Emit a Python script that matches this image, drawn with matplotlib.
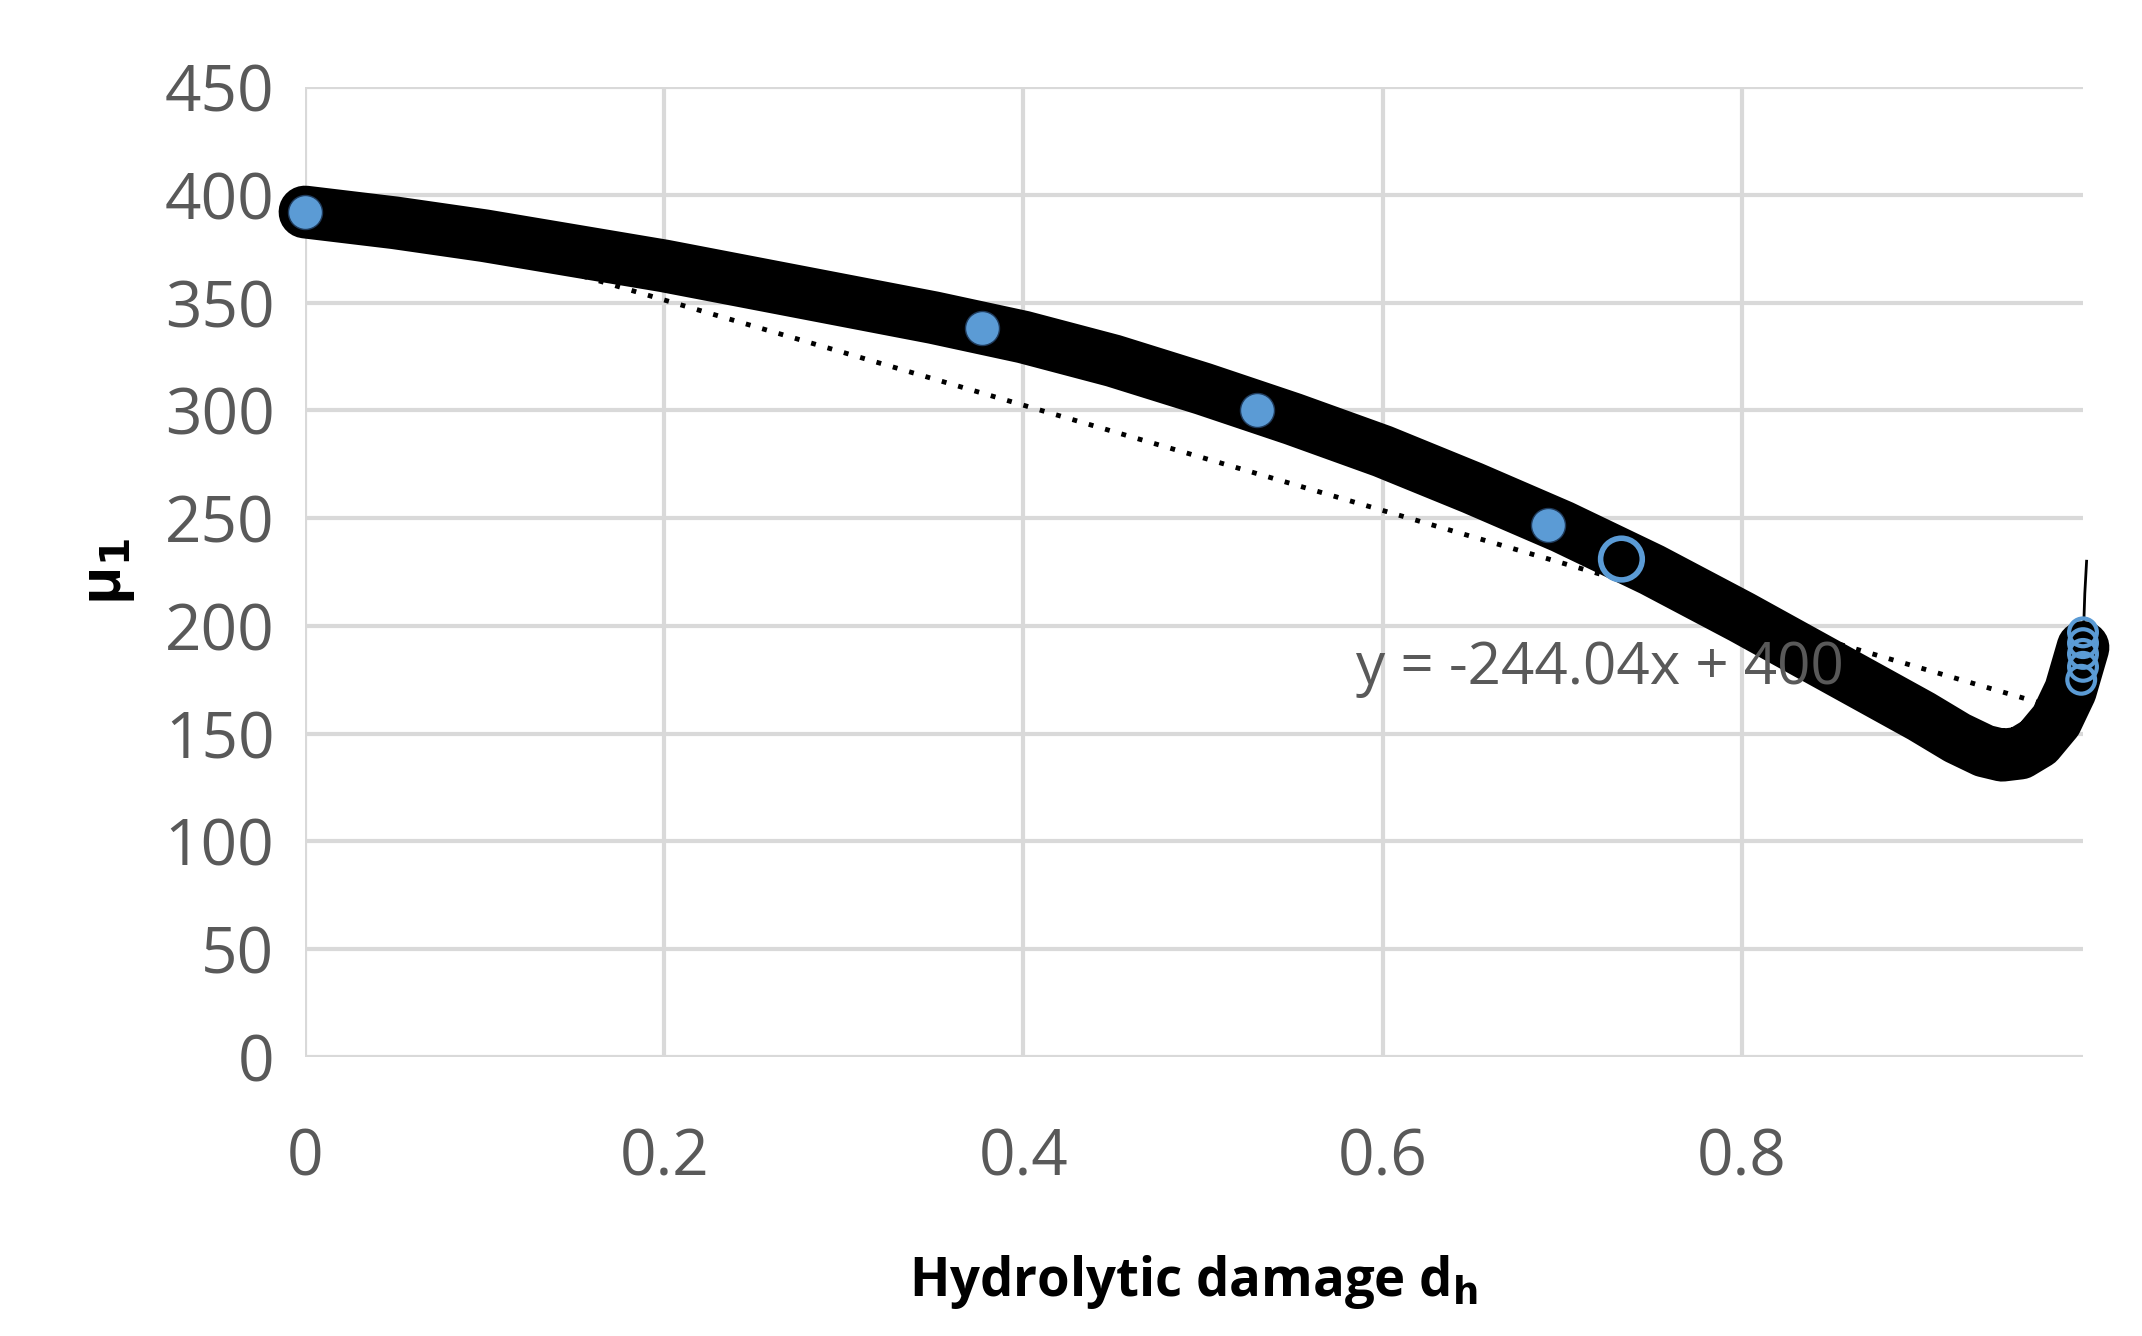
import matplotlib
matplotlib.use('Agg')
import matplotlib.pyplot as plt
import numpy as np

plt.rcParams['font.family'] = ['Open Sans', 'DejaVu Sans']

# thick simulated curve
curve_x = [0.0, 0.05, 0.1, 0.15, 0.2, 0.25, 0.3, 0.35, 0.4, 0.45, 0.5, 0.55, 0.6, 0.65, 0.7,
           0.75, 0.8, 0.85, 0.9, 0.92, 0.935, 0.945, 0.955, 0.965, 0.975, 0.983, 0.99]
curve_y = [392, 387, 381, 374, 367, 359, 351, 343, 334, 323, 310, 296, 281, 264, 246,
           226, 204, 181, 158, 148, 142, 140, 141, 146, 156, 170, 190]
spike_x = [0.99, 0.991, 0.992]
spike_y = [190, 215, 230]

# experimental points
pts_x = [0.0, 0.377, 0.53, 0.692]
pts_y = [392, 338, 300, 247]
open_x = [0.733]
open_y = [231]
end_x = [0.99, 0.99, 0.99, 0.99, 0.989]
end_y = [197, 192, 187, 181, 175]

slope, intercept = -244.04, 400

fig = plt.figure(figsize=(21.42, 13.36), dpi=100)
ax = fig.add_axes([305 / 2142, 1 - 1057 / 1336, (2083 - 305) / 2142, (1057 - 87) / 1336])

tx = np.array([0.0, 0.99])
ax.plot(tx, slope * tx + intercept, color='black', linestyle=(0, (1, 2.5)), linewidth=3.5, zorder=2)
ax.plot(curve_x, curve_y, color='black', linewidth=38, solid_capstyle='round',
        solid_joinstyle='round', zorder=3, clip_on=False)
ax.plot(spike_x, spike_y, color='black', linewidth=2, zorder=3, clip_on=False)
ax.scatter(pts_x, pts_y, s=600, color='#5b9bd5', edgecolors='#1f3b5c', linewidths=1, zorder=4, clip_on=False)
ax.scatter(open_x, open_y, s=900, facecolors='none', edgecolors='#5b9bd5', linewidths=4, zorder=4)
ax.scatter(end_x, end_y, s=400, facecolors='none', edgecolors='#5b9bd5', linewidths=3, zorder=4, clip_on=False)

ax.text(0.585, 180, 'y = -244.04x + 400', fontsize=42, color='#595959', ha='left', va='center', zorder=5)

ax.set_xlim(0, 0.99)
ax.set_ylim(0, 450)
ax.set_xticks([0, 0.2, 0.4, 0.6, 0.8])
ax.set_xticklabels(['0', '0.2', '0.4', '0.6', '0.8'])
ax.set_yticks(range(0, 451, 50))
ax.grid(True, color='#d9d9d9', linewidth=3)
ax.set_axisbelow(True)
for s in ax.spines.values():
    s.set_visible(False)
ax.tick_params(length=0, labelsize=46, labelcolor='#595959', pad=22)
ax.tick_params(axis='x', pad=50)

ax.set_xlabel('Hydrolytic damage d$_\\mathbf{h}$', fontsize=38, fontweight='bold', labelpad=45)
ax.set_ylabel('μ$_\\mathbf{1}$', fontsize=42, fontweight='bold', labelpad=20)

fig.savefig('out.png', dpi=100)
